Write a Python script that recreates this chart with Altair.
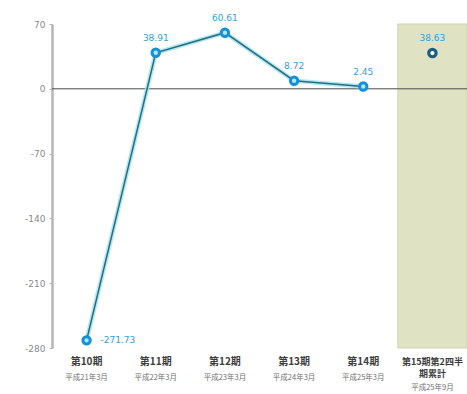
import altair as alt
import pandas as pd

# Fiscal periods and per-period values
periods = ["第10期", "第11期", "第12期", "第13期", "第14期", "第15期"]
values = [-271.73, 38.91, 60.61, 8.72, 2.45, 38.63]
period_dates = ["平成21年3月", "平成22年3月", "平成23年3月", "平成24年3月", "平成25年3月", "平成25年9月"]
y_ticks = [70, 0, -70, -140, -210, -280]

# Label text under the axis
line1 = ["第10期", "第11期", "第12期", "第13期", "第14期"]
line2 = period_dates[:5]
last_lines = ["第15期第2四半", "期累計"]
last_date = [period_dates[5]]

df = pd.DataFrame({"period": periods, "value": values, "label": [f"{v:.2f}" for v in values]})
actual = df.iloc[:5]
forecast = df.iloc[5:]

x_scale = alt.Scale(domain=periods, paddingInner=0, paddingOuter=0)
y_scale = alt.Scale(domain=[min(y_ticks), max(y_ticks)], nice=False, zero=False)
y_axis = alt.Axis(values=y_ticks, title=None, grid=False,
                  labelExpr="replace(datum.label, '\u2212', '-')",
                  labelColor="#8a8a8a", labelFontSize=9, labelPadding=4,
                  domainColor="#b5b5b5", domainWidth=2.5,
                  tickColor="#b5b5b5", tickSize=3, labelFont="DejaVu Sans")

x_enc = alt.X("period:N", scale=x_scale, axis=None, sort=periods)
y_enc = alt.Y("value:Q", scale=y_scale, axis=y_axis)

# Shaded panel behind the last period
panel_df = pd.DataFrame({"period": [periods[5]], "top": [max(y_ticks)], "bottom": [min(y_ticks)]})
panel = alt.Chart(panel_df).mark_rect(fill="#e0e3c3", stroke="#cfd3ad", strokeWidth=1).encode(
    x=x_enc,
    y=alt.Y("top:Q", scale=y_scale, axis=y_axis),
    y2="bottom:Q",
)

zero = alt.Chart(pd.DataFrame({"z": [0]})).mark_rule(color="#4a4a4a", strokeWidth=1).encode(
    y=alt.Y("z:Q", scale=y_scale, axis=y_axis)
)

base = alt.Chart(actual).encode(x=x_enc, y=y_enc)
glow = base.mark_line(color="#9fe4f3", strokeWidth=4.5, opacity=0.85)
line = base.mark_line(color="#2d6a7c", strokeWidth=1.5)
pts = base.mark_point(shape="circle", filled=False, size=55, stroke="#1590d8", strokeWidth=3,
                      fill="#aee6fa", fillOpacity=1)

last_pt = alt.Chart(forecast).mark_point(shape="circle", size=55, stroke="#1d5d84", strokeWidth=3.2,
                                         fill="#ffffff", fillOpacity=1).encode(x=x_enc, y=y_enc)

lbl_style = dict(color="#2f9fe0", fontSize=9, font="DejaVu Sans")
labels_up = alt.Chart(df[df["value"] > 0]).mark_text(dy=-15, **lbl_style).encode(
    x=x_enc, y=y_enc, text="label:N")
labels_low = alt.Chart(df[df["value"] < 0]).mark_text(dx=14, align="left", **lbl_style).encode(
    x=x_enc, y=y_enc, text="label:N")

font_jp = "Noto Sans CJK JP"
t1 = alt.Chart(pd.DataFrame({"period": periods[:5], "t": line1})).mark_text(
    dy=14, fontSize=10, fontWeight="bold", color="#3c3c3c", font=font_jp, baseline="middle"
).encode(x=x_enc, y=alt.value("height"), text="t:N")
t2 = alt.Chart(pd.DataFrame({"period": periods[:5], "t": line2})).mark_text(
    dy=30, fontSize=7.5, color="#707070", font=font_jp, baseline="middle"
).encode(x=x_enc, y=alt.value("height"), text="t:N")
t3 = alt.Chart(pd.DataFrame({"period": periods[5:], "t": [last_lines]})).mark_text(
    dy=14, fontSize=9, lineHeight=12, fontWeight="bold", color="#3c3c3c", font=font_jp, baseline="middle"
).encode(x=x_enc, y=alt.value("height"), text="t")
t4 = alt.Chart(pd.DataFrame({"period": periods[5:], "t": last_date})).mark_text(
    dy=40, fontSize=7.5, color="#707070", font=font_jp, baseline="middle"
).encode(x=x_enc, y=alt.value("height"), text="t:N")

chart = alt.layer(panel, zero, glow, line, pts, last_pt, labels_up, labels_low, t1, t2, t3, t4).properties(
    width=415, height=324,
    padding={"left": 52, "top": 24, "right": 0, "bottom": 46},
    autosize=alt.AutoSizeParams(type="none"),
    background="white",
).configure_view(stroke=None)

chart.save("out.html", embed_options={"renderer": "svg", "actions": False})
